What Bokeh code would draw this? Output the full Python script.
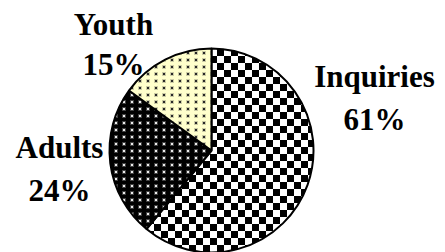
import math, zlib, struct, base64
from bokeh.plotting import figure
from bokeh.models import ColumnDataSource, Range1d, Label, ImageURLTexture, CDSView, IndexFilter
from bokeh.core.properties import value
from bokeh.embed import file_html
from bokeh.resources import INLINE

categories = ["Inquiries", "Adults", "Youth"]
shares = [61, 24, 15]
pct_labels = ["61%", "24%", "15%"]

fill_colors = ["#ffffff", "#000000", "#ffffcc"]
texture_kinds = ["checker", "dots_light", "dots_dark"]


def make_png(w, h, pixel):
    rows = []
    for y in range(h):
        row = b"\x00"
        for x in range(w):
            row += bytes(pixel(x, y))
        rows.append(row)
    raw = b"".join(rows)

    def chunk(t, d):
        c = struct.pack(">I", len(d)) + t + d
        return c + struct.pack(">I", zlib.crc32(t + d) & 0xffffffff)
    png = (b"\x89PNG\r\n\x1a\n" + chunk(b"IHDR", struct.pack(">IIBBBBB", w, h, 8, 6, 0, 0, 0))
           + chunk(b"IDAT", zlib.compress(raw)) + chunk(b"IEND", b""))
    return "data:image/png;base64," + base64.b64encode(png).decode()


def checker_px(n):
    def f(x, y):
        return (0, 0, 0, 255) if ((x // n) + (y // n)) % 2 == 0 else (0, 0, 0, 0)
    return f


def dot_px(rgb, core, fringe):
    def f(x, y):
        if x in (3, 4) and y in (3, 4):
            return rgb + (core,)
        if x in (2, 3, 4, 5) and y in (2, 3, 4, 5):
            return rgb + (fringe,)
        return (0, 0, 0, 0)
    return f


textures = {
    "checker": ImageURLTexture(url=make_png(14, 14, checker_px(7))),
    "dots_light": ImageURLTexture(url=make_png(8, 7, dot_px((235, 235, 235), 255, 70))),
    "dots_dark": ImageURLTexture(url=make_png(8, 7, dot_px((40, 40, 40), 255, 60))),
}

total = float(sum(shares))
starts, ends = [], []
cum = 0.0
for s in shares:
    a0 = cum / total
    cum += s
    a1 = cum / total
    starts.append(math.pi / 2 - 2 * math.pi * a1)
    ends.append(math.pi / 2 - 2 * math.pi * a0)

W, H = 445, 252
CX, CY, R = 211, H - 150, 102

src = ColumnDataSource(dict(cat=categories, start=starts, end=ends))

p = figure(width=W, height=H, output_backend="svg", toolbar_location=None,
           x_range=Range1d(0, W), y_range=Range1d(0, H),
           min_border=0, outline_line_color=None)
p.axis.visible = False
p.grid.visible = False

for i in range(len(categories)):
    p.wedge(x=CX, y=CY, radius=R, start_angle="start", end_angle="end",
            source=src, view=CDSView(filter=IndexFilter([i])),
            fill_color=fill_colors[i], hatch_color="black",
            hatch_pattern=value(texture_kinds[i]), hatch_extra=textures,
            line_color="black", line_width=2)

label_pos = {
    "Inquiries": (374, 76, 119),
    "Adults": (59, 147, 190),
    "Youth": (113, 24, 64),
}
for cat, pct in zip(categories, pct_labels):
    x, y1, y2 = label_pos[cat]
    for txt, yy in ((cat, y1), (pct, y2)):
        p.add_layout(Label(x=x, y=H - yy, text=txt, text_align="center",
                           text_baseline="alphabetic", text_font="Liberation Serif",
                           text_font_style="bold", text_font_size="31px",
                           text_color="black"))

open("out.html", "w").write(file_html(p, INLINE))
